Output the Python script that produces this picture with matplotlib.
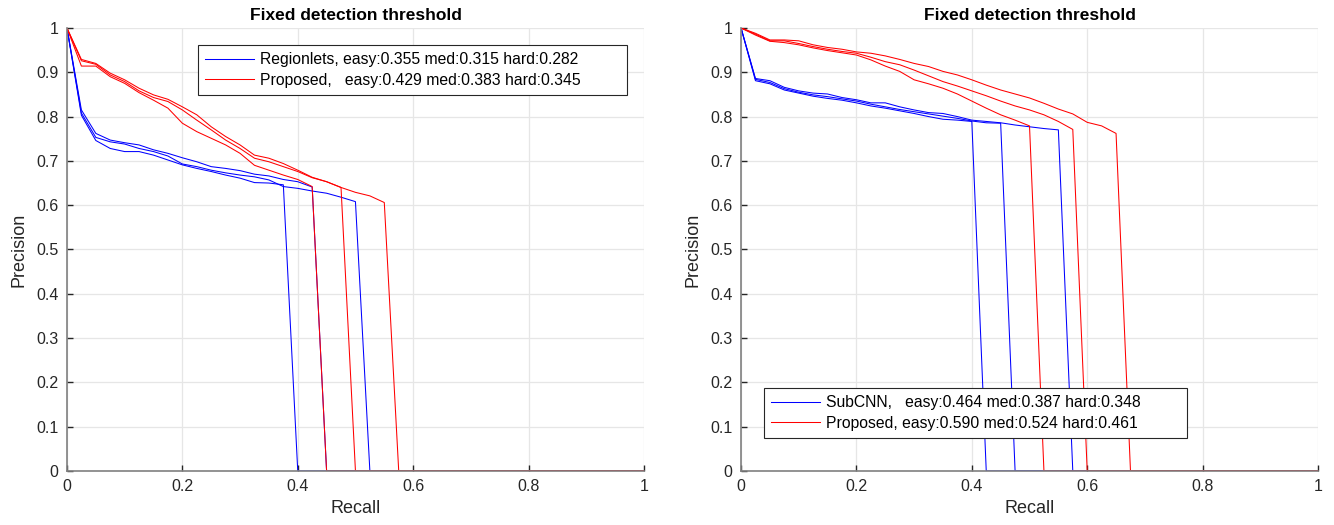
import numpy as np
import matplotlib
matplotlib.use("Agg")
import matplotlib.pyplot as plt

plt.rcParams['font.family'] = ['Liberation Sans', 'DejaVu Sans']

# recall grid (41 points, KITTI style)
recall = np.linspace(0, 1, 41)

# left panel: Regionlets vs Proposed (precision until the curve drops to 0)
reg_a = [1, .803, .746, .728, .721, .721, .713, .702, .691, .683, .676, .668, .661, .651, .650, .646]
reg_b = [1, .815, .762, .747, .741, .736, .725, .717, .707, .698, .687, .683, .678, .670, .666, .658,
         .653, .641]
reg_c = [1, .808, .753, .743, .738, .728, .721, .711, .693, .687, .679, .673, .668, .664, .657, .642,
         .638, .632, .627, .618, .608]
propL_a = [1, .914, .914, .890, .875, .854, .837, .819, .785, .766, .751, .736, .717, .690, .679, .668,
           .658, .642]
propL_b = [1, .926, .918, .894, .879, .858, .843, .834, .815, .792, .770, .747, .728, .706, .698, .687,
           .676, .662, .653, .640]
propL_c = [1, .929, .920, .898, .883, .864, .849, .839, .822, .804, .777, .755, .736, .713, .706, .694,
           .679, .663, .653, .640, .629, .621, .606]

# right panel: SubCNN vs Proposed
sub_a = [1, .881, .874, .860, .853, .846, .841, .837, .831, .824, .819, .813, .807, .800, .794, .792,
         .789]
sub_b = [1, .884, .877, .863, .855, .849, .845, .840, .835, .828, .822, .816, .811, .806, .801, .796,
         .790, .786, .785]
sub_c = [1, .886, .881, .866, .858, .853, .851, .843, .838, .831, .831, .822, .815, .809, .807, .800,
         .792, .789, .786, .781, .777, .773, .770]
propR_a = [1, .984, .970, .967, .962, .955, .949, .944, .939, .928, .914, .902, .883, .874, .864, .851,
           .835, .819, .804, .792, .779]
propR_b = [1, .986, .971, .971, .965, .958, .952, .947, .943, .934, .924, .917, .905, .892, .879, .869,
           .858, .847, .835, .824, .815, .804, .789, .771]
propR_c = [1, .988, .973, .973, .971, .962, .956, .952, .946, .943, .937, .929, .920, .913, .902, .894,
           .883, .871, .860, .851, .842, .830, .817, .806, .787, .779, .762]

labels_left = ["Regionlets, easy:0.355 med:0.315 hard:0.282",
               "Proposed,   easy:0.429 med:0.383 hard:0.345"]
labels_right = ["SubCNN,   easy:0.464 med:0.387 hard:0.348",
                "Proposed, easy:0.590 med:0.524 hard:0.461"]


def full(p):
    return p + [0] * (len(recall) - len(p))


fig = plt.figure(figsize=(13.34, 5.25), dpi=100)
ax1 = fig.add_axes([0.0502, 0.1029, 0.4325, 0.8438])
ax2 = fig.add_axes([0.5555, 0.1029, 0.4325, 0.8438])

panels = [
    (ax1, [reg_a, reg_b, reg_c], [propL_a, propL_b, propL_c], labels_left, 'upper right', (0.9705, 0.9616)),
    (ax2, [sub_a, sub_b, sub_c], [propR_a, propR_b, propR_c], labels_right, 'lower left', (0.0399, 0.0752)),
]

for ax, blues, reds, labs, loc, anchor in panels:
    hb = hr = None
    for p in blues:
        hb, = ax.plot(recall, full(p), color='#0000ff', lw=0.75)
    for p in reds:
        hr, = ax.plot(recall, full(p), color='#ff0000', lw=0.75)
    ax.set_xlim(0, 1)
    ax.set_ylim(0, 1)
    ax.set_xticks(np.arange(0, 1.01, 0.2))
    ax.set_yticks(np.arange(0, 1.01, 0.1))
    ax.set_xticklabels(['0', '0.2', '0.4', '0.6', '0.8', '1'])
    ax.set_yticklabels(['0', '0.1', '0.2', '0.3', '0.4', '0.5', '0.6', '0.7', '0.8', '0.9', '1'])
    ax.grid(True, color='#e6e6e6', lw=0.9)
    ax.set_axisbelow(True)
    for s in ['top', 'right']:
        ax.spines[s].set_visible(False)
    for s in ['left', 'bottom']:
        ax.spines[s].set_color('#808080')
        ax.spines[s].set_linewidth(1.2)
    ax.tick_params(direction='in', length=4.5, width=1, color='#262626',
                   labelsize=11.5, labelcolor='#262626', pad=6)
    ax.set_xlabel('Recall', fontsize=13, color='#262626', labelpad=4)
    ax.set_ylabel('Precision', fontsize=13, color='#262626', labelpad=6)
    ax.set_title('Fixed detection threshold', fontsize=12.5, fontweight='bold', pad=6)
    # MATLAB legends leave a wide gap after the text
    leg = ax.legend([hb, hr], [l + ' ' * 9 for l in labs], loc=loc, bbox_to_anchor=anchor,
                    fontsize=11.3, fancybox=False, framealpha=1, edgecolor='#262626',
                    handlelength=3.1, handletextpad=0.4, borderpad=0.45,
                    labelspacing=0.35, borderaxespad=0)
    leg.get_frame().set_linewidth(0.8)

fig.savefig('out.png', dpi=100)
